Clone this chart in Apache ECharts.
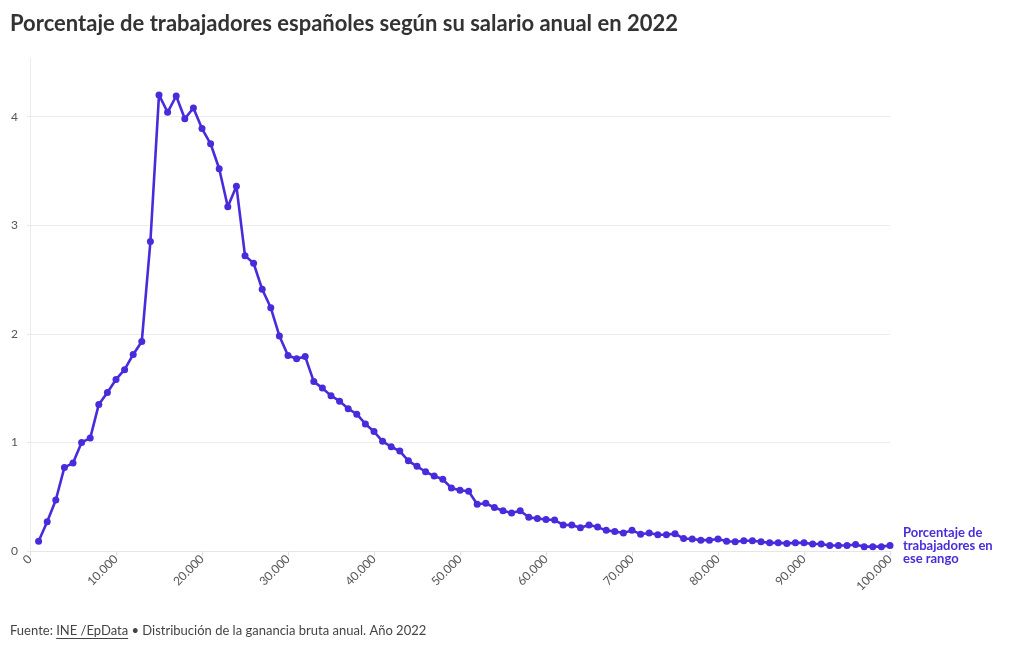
<!DOCTYPE html>
<html>
<head>
<meta charset="utf-8">
<script src="https://cdn.jsdelivr.net/npm/echarts@6/dist/echarts.min.js"></script>
<style>
html,body{margin:0;padding:0;background:#fff;}
#chart{width:1020px;height:650px;}
</style>
</head>
<body>
<div id="chart"></div>
<script>
// Salary ranges (euros, upper bound of each 1.000 € band)
const salaries = [];
for (let s = 1000; s <= 100000; s += 1000) salaries.push(s);

// Percentage of workers in each range
const percentages = [
  0.09, 0.27, 0.47, 0.77, 0.81, 1.00, 1.04, 1.35, 1.46, 1.58,
  1.67, 1.81, 1.93, 2.85, 4.20, 4.04, 4.19, 3.98, 4.08, 3.89,
  3.75, 3.52, 3.17, 3.36, 2.72, 2.65, 2.41, 2.24, 1.98, 1.80,
  1.77, 1.79, 1.56, 1.50, 1.43, 1.38, 1.31, 1.26, 1.17, 1.10,
  1.01, 0.96, 0.92, 0.83, 0.78, 0.73, 0.69, 0.66, 0.58, 0.56,
  0.55, 0.43, 0.44, 0.40, 0.37, 0.35, 0.37, 0.31, 0.30, 0.29,
  0.285, 0.24, 0.24, 0.215, 0.24, 0.22, 0.19, 0.18, 0.165, 0.19,
  0.155, 0.165, 0.15, 0.15, 0.16, 0.115, 0.11, 0.10, 0.10, 0.11,
  0.09, 0.085, 0.095, 0.095, 0.085, 0.075, 0.075, 0.07, 0.075, 0.075,
  0.065, 0.065, 0.05, 0.05, 0.05, 0.06, 0.04, 0.04, 0.04, 0.05
];

const titleText = 'Porcentaje de trabajadores españoles según su salario anual en 2022';
const seriesName = 'Porcentaje de\ntrabajadores en\nese rango';
const sourcePrefix = 'Fuente: ';
const sourceLink = 'INE /EpData';
const sourceRest = ' • Distribución de la ganancia bruta anual. Año 2022';

const FONT = 'Lato, "Noto Sans", sans-serif';
const LINE_COLOR = '#4a2bdb';

function fmt(v) {
  return String(Math.round(v)).replace(/\B(?=(\d{3})+(?!\d))/g, '.');
}

const chart = echarts.init(document.getElementById('chart'), null, {renderer: 'canvas'});

// measure text for underline placement
const ctx = document.createElement('canvas').getContext('2d');
ctx.font = '13px ' + FONT;
const prefixW = ctx.measureText(sourcePrefix).width;
const linkW = ctx.measureText(sourceLink).width;

const option = {
  backgroundColor: '#ffffff',
  animation: false,
  textStyle: {fontFamily: FONT},
  title: {
    text: titleText,
    left: 10,
    top: 13,
    padding: 0,
    textStyle: {fontFamily: FONT, fontSize: 22, fontWeight: 'bold', color: '#333333'}
  },
  grid: {left: 30, right: 130, top: 58, bottom: 99, containLabel: false},
  xAxis: {
    type: 'value',
    min: 0,
    max: 100000,
    interval: 10000,
    axisLine: {show: true, lineStyle: {color: '#e6e6e6', width: 1}},
    axisTick: {show: true, length: 5, lineStyle: {color: '#e0e0e0'}},
    splitLine: {show: false},
    axisLabel: {
      rotate: 45,
      fontSize: 12,
      color: '#555555',
      fontFamily: FONT,
      margin: 6,
      formatter: fmt
    }
  },
  yAxis: {
    type: 'value',
    min: 0,
    max: 4.54,
    interval: 1,
    axisLine: {show: true, lineStyle: {color: '#ececec', width: 1}},
    axisTick: {show: true, length: 3, lineStyle: {color: '#e6e6e6'}},
    splitLine: {show: true, lineStyle: {color: ['#ececec', '#ececec', '#ececec', '#ececec', '#ececec', 'rgba(0,0,0,0)'], width: 1}},
    axisLabel: {
      fontSize: 12,
      color: '#555555',
      fontFamily: FONT,
      margin: 12,
      showMaxLabel: false,
      formatter: function (v) { return Number.isInteger(v) ? String(v) : ''; }
    }
  },
  series: [{
    type: 'line',
    name: seriesName,
    data: salaries.map((s, i) => [s, percentages[i]]),
    symbol: 'circle',
    symbolSize: 7,
    lineStyle: {color: LINE_COLOR, width: 2.6},
    itemStyle: {color: LINE_COLOR},
    clip: false,
    endLabel: {
      show: true,
      distance: 13,
      formatter: seriesName,
      color: LINE_COLOR,
      fontFamily: FONT,
      fontWeight: 'bold',
      fontSize: 13,
      lineHeight: 13
    }
  }],
  graphic: [
    {
      type: 'text',
      left: 10,
      top: 624,
      style: {
        text: sourcePrefix + sourceLink + sourceRest,
        font: '13px ' + FONT,
        fill: '#444444'
      }
    },
    {
      type: 'line',
      shape: {x1: 10 + prefixW, y1: 638.5, x2: 10 + prefixW + linkW, y2: 638.5},
      style: {stroke: '#444444', lineWidth: 1}
    }
  ]
};

chart.setOption(option);
</script>
</body>
</html>
